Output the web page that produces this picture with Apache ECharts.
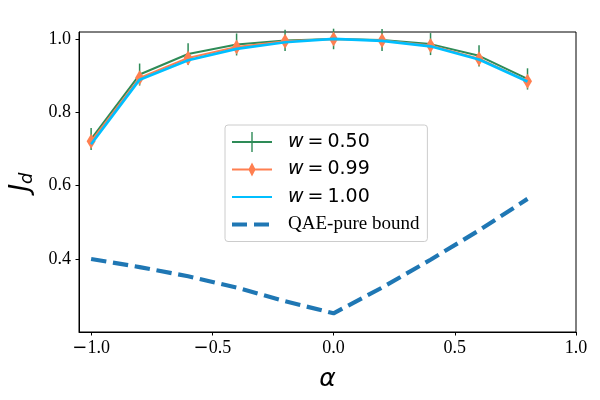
<!DOCTYPE html>
<html>
<head>
<meta charset="utf-8">
<script src="https://cdn.jsdelivr.net/npm/echarts@6/dist/echarts.min.js"></script>
<style>
  html, body { margin: 0; padding: 0; background: #fff; }
  #main { width: 600px; height: 400px; }
</style>
</head>
<body>
<div id="main"></div>
<script>
// data
var alpha = [-1.0, -0.8, -0.6, -0.4, -0.2, 0.0, 0.2, 0.4, 0.6, 0.8];
var jd050 = [0.727, 0.903, 0.959, 0.985, 0.996, 1.0, 0.997, 0.986, 0.954, 0.891];
var jd050Err = [0.030, 0.030, 0.029, 0.030, 0.029, 0.028, 0.030, 0.030, 0.029, 0.029];
var jd099 = [0.721, 0.894, 0.948, 0.978, 0.994, 1.0, 0.996, 0.982, 0.946, 0.885];
var jd100 = [0.713, 0.889, 0.942, 0.973, 0.991, 1.0, 0.995, 0.980, 0.944, 0.884];
var qaeBound = [0.400, 0.378, 0.353, 0.322, 0.285, 0.252, 0.322, 0.398, 0.478, 0.564];
var xTicks = [-1.0, -0.5, 0.0, 0.5, 1.0];
var yTicks = [0.4, 0.6, 0.8, 1.0];
var names = ['w050', 'w099', 'w100', 'QAE-pure bound'];

function pairs(ys) {
	return alpha.map(function (a, i) { return [a, ys[i]]; });
}
var errData = alpha.map(function (a, i) { return [a, jd050[i] - jd050Err[i], jd050[i] + jd050Err[i]]; });

var serif = 'Liberation Serif';
var legendLabel = {
	'w050': '{i|w}{e|=}{n|0.50}',
	'w099': '{i|w}{e|=}{n|0.99}',
	'w100': '{i|w}{e|=}{n|1.00}',
	'QAE-pure bound': '{t|QAE-pure bound}'
};
// tick label: minus sign comes from DejaVu like in the original
function tickText(v) {
	var s = Math.abs(v).toFixed(1);
	return v < 0 ? '{m|\u2212}{v|' + s + '}' : '{v|' + s + '}';
}
var tickRich = {
	m: { fontFamily: 'DejaVu Sans', fontSize: 18, color: '#000' },
	v: { fontFamily: serif, fontSize: 18, color: '#000' }
};

var chart = echarts.init(document.getElementById('main'));
var option = {
	animation: false,
	backgroundColor: '#fff',
	grid: { left: 78, right: 24, top: 32, bottom: 68, show: true, borderColor: '#000', borderWidth: 1 },
	xAxis: {
		type: 'value', min: -1.05, max: 1.0,
		axisLine: { show: true, onZero: false, lineStyle: { color: '#000', width: 1 } },
		axisTick: { show: true, length: 3.5, lineStyle: { color: '#000' }, customValues: xTicks },
		axisLabel: { customValues: xTicks, margin: 7, formatter: tickText, rich: tickRich },
		splitLine: { show: false },
		name: 'α', nameLocation: 'middle', nameGap: 35,
		nameTextStyle: { fontFamily: 'DejaVu Sans', fontStyle: 'italic', fontSize: 25, color: '#000' }
	},
	yAxis: {
		type: 'value', min: 0.201, max: 1.019,
		axisLine: { show: true, onZero: false, lineStyle: { color: '#000', width: 1 } },
		axisTick: { show: true, length: 3.5, lineStyle: { color: '#000' }, customValues: yTicks },
		axisLabel: { customValues: yTicks, margin: 8, formatter: tickText, rich: tickRich },
		splitLine: { show: false },
		name: '{j|J}{d|d}', nameLocation: 'middle', nameRotate: 90, nameGap: 43,
		nameTextStyle: {
			rich: {
				j: { fontFamily: 'DejaVu Sans', fontStyle: 'italic', fontSize: 26, color: '#000' },
				d: { fontFamily: 'DejaVu Sans', fontStyle: 'italic', fontSize: 18, color: '#000', padding: [12, 0, 0, 0] }
			}
		}
	},
	legend: {
		orient: 'vertical', left: 225, top: 125,
		padding: [7, 8, 7, 7], itemGap: 7.5, itemWidth: 51, itemHeight: 20,
		backgroundColor: 'rgba(255,255,255,0.8)', borderColor: '#cccccc', borderWidth: 1, borderRadius: 3,
		itemStyle: { borderWidth: 0 },
		data: [
			{ name: 'w050', icon: 'path://M0,0 M51,20 M0,9.1L40,9.1L40,10.9L0,10.9Z M19.3,0L20.7,0L20.7,20L19.3,20Z' },
			{ name: 'w099', icon: 'path://M0,0 M51,20 M0,9.1L40,9.1L40,10.9L0,10.9Z M20,3L23.6,10L20,17L16.4,10Z' },
			{ name: 'w100', icon: 'path://M0,0 M51,20 M0,9L40,9L40,11L0,11Z' },
			{ name: 'QAE-pure bound', icon: 'path://M0,0 M51,20 M0,8L15,8L15,12L0,12Z M22,8L37,8L37,12L22,12Z' }
		],
		formatter: function (n) { return legendLabel[n]; },
		textStyle: {
			rich: {
				i: { fontFamily: 'DejaVu Sans', fontStyle: 'italic', fontSize: 19, color: '#000' },
				e: { fontFamily: 'DejaVu Sans', fontSize: 19, color: '#000', padding: [0, 4, 0, 4] },
				n: { fontFamily: 'DejaVu Sans', fontSize: 19, color: '#000' },
				t: { fontFamily: serif, fontSize: 19, color: '#000' }
			}
		}
	},
	series: [
		{
			name: names[0], type: 'line', data: pairs(jd050), color: '#2e8b57',
			symbol: 'none', lineStyle: { width: 2, color: '#2e8b57' }, z: 2
		},
		{
			name: 'err050', type: 'custom', data: errData, z: 3,
			renderItem: function (params, api) {
				var top = api.coord([api.value(0), api.value(2)]);
				var bot = api.coord([api.value(0), api.value(1)]);
				return {
					type: 'line',
					shape: { x1: top[0], y1: top[1], x2: bot[0], y2: bot[1] },
					style: { stroke: '#2e8b57', lineWidth: 1.5 }
				};
			}
		},
		{
			name: names[1], type: 'line', data: pairs(jd099), color: '#ff7f50',
			symbol: 'diamond', symbolSize: [9, 15], showSymbol: true,
			itemStyle: { color: '#ff7f50', borderWidth: 0 },
			lineStyle: { width: 2, color: '#ff7f50' }, z: 4
		},
		{
			name: names[2], type: 'line', data: pairs(jd100), color: '#00bfff',
			symbol: 'none', lineStyle: { width: 2.7, color: '#00bfff' }, z: 5
		},
		{
			name: names[3], type: 'line', data: pairs(qaeBound), color: '#1f77b4',
			symbol: 'none', lineStyle: { width: 4.2, color: '#1f77b4', type: [15.4, 6.7], cap: 'butt' }, z: 6
		}
	]
};
chart.setOption(option);
</script>
</body>
</html>
